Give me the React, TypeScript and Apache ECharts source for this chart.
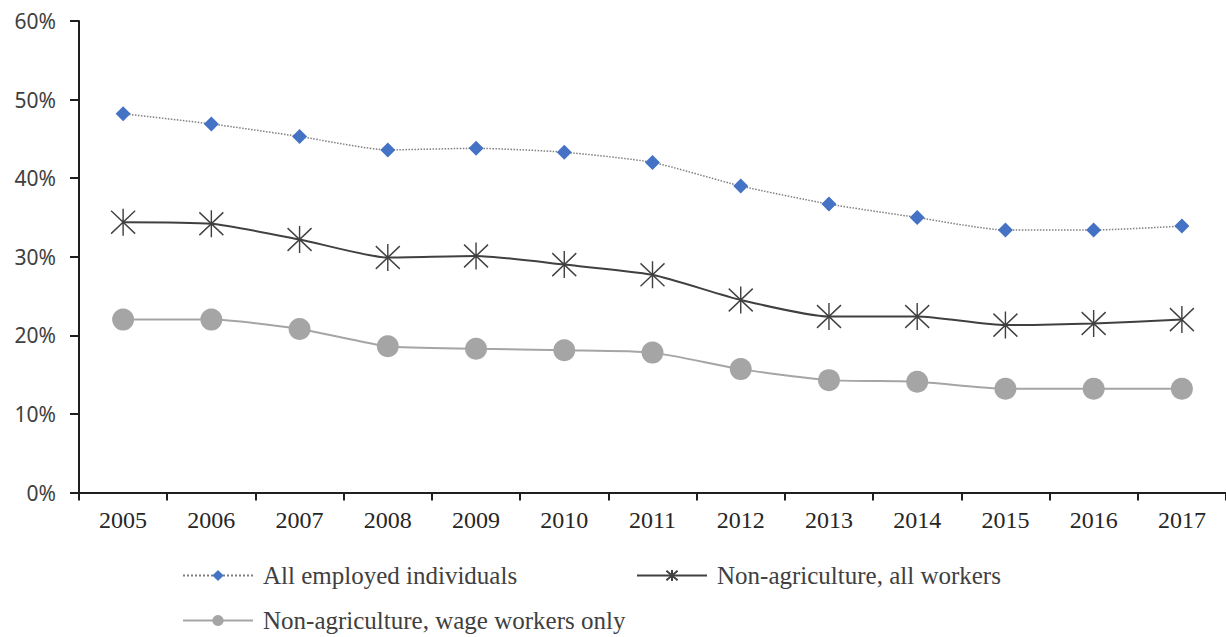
import React, { useEffect, useRef } from "react";
import * as echarts from "echarts";

// Survey years on the category axis
const years = ["2005", "2006", "2007", "2008", "2009", "2010", "2011", "2012", "2013", "2014", "2015", "2016", "2017"];

// Shares in percent
const allEmployed = [48.2, 46.9, 45.3, 43.6, 43.8, 43.3, 42.0, 39.0, 36.7, 35.0, 33.4, 33.4, 33.9];
const nonAgriAll = [34.4, 34.2, 32.2, 29.9, 30.1, 29.0, 27.7, 24.5, 22.4, 22.4, 21.3, 21.5, 22.0];
const nonAgriWage = [22.0, 22.0, 20.8, 18.6, 18.3, 18.1, 17.8, 15.7, 14.3, 14.1, 13.2, 13.2, 13.2];

const yTicks = { min: 0, max: 60, interval: 10 };

const seriesNames = [
  "All employed individuals",
  "Non-agriculture, all workers",
  "Non-agriculture, wage workers only",
];

// Asterisk marker: one vertical stroke crossed by two diagonals
const asterisk = "path://M12,0 L12,26 M1,2 L23,24 M1,24 L23,2";

const serif = "'Liberation Serif', 'Times New Roman', serif";
const sans = "'Noto Sans', 'Open Sans', sans-serif";

export default function App() {
  const ref = useRef<HTMLDivElement>(null);

  useEffect(() => {
    if (!ref.current) return;
    const chart = echarts.init(ref.current, null, { renderer: "svg" });

    const legendText = {
      fontFamily: serif,
      fontSize: 25,
      color: "#404040",
      padding: [0, 0, 0, 5],
    };

    chart.setOption({
      animation: false,
      backgroundColor: "#ffffff",
      grid: { left: 79, right: 0, top: 21, bottom: 144.5, containLabel: false },
      legend: [
        {
          data: [seriesNames[0]],
          left: 182,
          top: 563,
          padding: 0,
          itemWidth: 70,
          itemHeight: 14,
          textStyle: legendText,
        },
        {
          data: [seriesNames[1]],
          left: 636,
          top: 563,
          padding: 0,
          itemWidth: 70,
          itemHeight: 14,
          textStyle: legendText,
        },
        {
          data: [seriesNames[2]],
          left: 182,
          top: 608,
          padding: 0,
          itemWidth: 70,
          itemHeight: 14,
          textStyle: legendText,
        },
      ],
      xAxis: {
        type: "category",
        data: years,
        boundaryGap: true,
        axisLine: { lineStyle: { color: "#1f1f1f", width: 2 } },
        axisTick: { show: true, length: 8, lineStyle: { color: "#1f1f1f", width: 2 } },
        axisLabel: {
          fontFamily: serif,
          fontSize: 24,
          color: "#262626",
          margin: 15,
        },
        splitLine: { show: false },
      },
      yAxis: {
        type: "value",
        min: yTicks.min,
        max: yTicks.max,
        interval: yTicks.interval,
        axisLine: { show: true, lineStyle: { color: "#1f1f1f", width: 2 } },
        axisTick: { show: true, length: 9, lineStyle: { color: "#1f1f1f", width: 2 } },
        axisLabel: {
          formatter: "{value}%",
          fontFamily: sans,
          fontSize: 21,
          color: "#404040",
          margin: 23,
        },
        splitLine: { show: false },
      },
      series: [
        {
          name: seriesNames[0],
          type: "line",
          data: allEmployed,
          smooth: 0.2,
          symbol: "diamond",
          symbolSize: 15,
          itemStyle: { color: "#4472c4" },
          lineStyle: { color: "#7f7f7f", width: 1.5, type: "dotted" },
          z: 4,
        },
        {
          name: seriesNames[1],
          type: "line",
          data: nonAgriAll,
          smooth: 0.2,
          symbol: asterisk,
          symbolSize: [24, 27],
          itemStyle: { color: "#404040", borderColor: "#404040", borderWidth: 1.5 },
          lineStyle: { color: "#404040", width: 2 },
          z: 3,
        },
        {
          name: seriesNames[2],
          type: "line",
          data: nonAgriWage,
          smooth: 0.2,
          symbol: "circle",
          symbolSize: 22,
          itemStyle: { color: "#a5a5a5" },
          lineStyle: { color: "#a5a5a5", width: 2 },
          z: 2,
        },
      ],
    });

    return () => chart.dispose();
  }, []);

  return (
    <div
      ref={ref}
      style={{ position: "absolute", left: 0, top: 0, width: 1226, height: 637 }}
    />
  );
}
